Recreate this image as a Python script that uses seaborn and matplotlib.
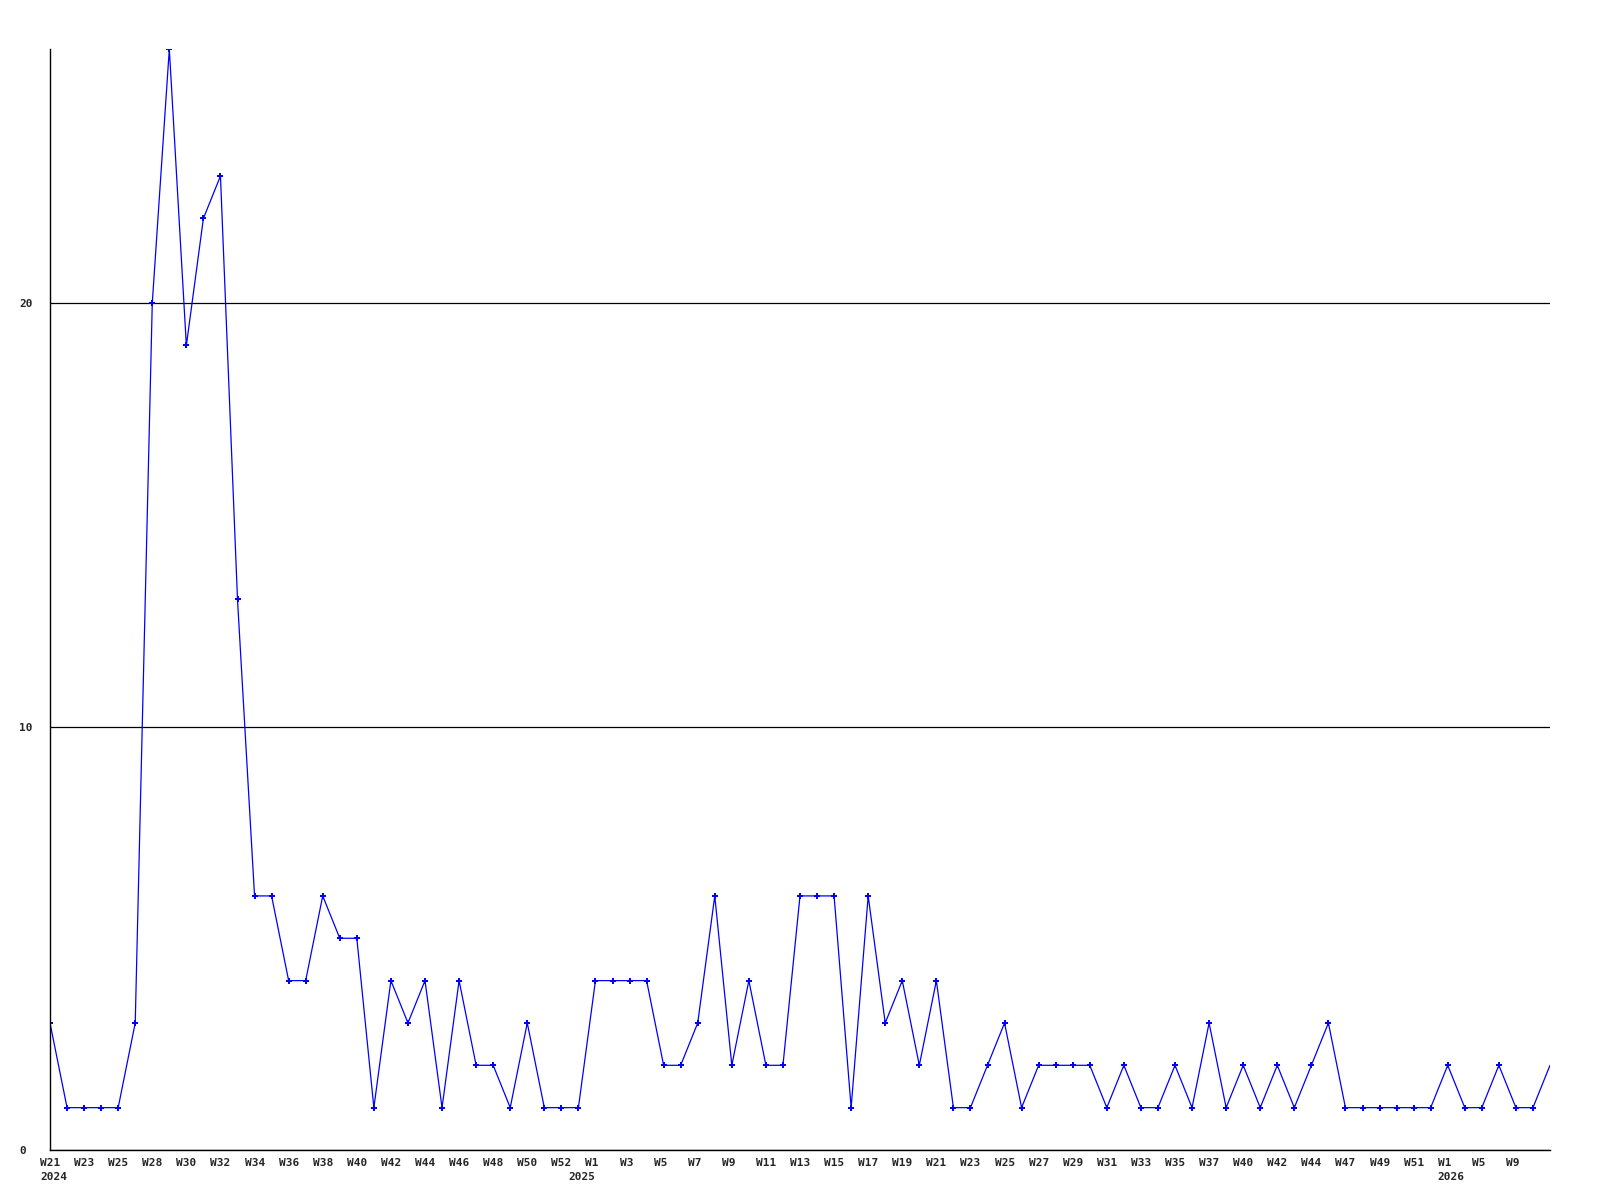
import matplotlib
matplotlib.use('Agg')
import matplotlib.pyplot as plt
import matplotlib.transforms as mtransforms
import seaborn as sns
import pandas as pd

# weekly counts (W21 2024 .. W10 2026)
counts = [3, 1, 1, 1, 1, 3, 20, 26, 19, 22, 23, 13, 6, 6, 4, 4, 6, 5, 5, 1,
          4, 3, 4, 1, 4, 2, 2, 1, 3, 1, 1, 1, 4, 4, 4, 4, 2, 2, 3, 6,
          2, 4, 2, 2, 6, 6, 6, 1, 6, 3, 4, 2, 4, 1, 1, 2, 3, 1, 2, 2,
          2, 2, 1, 2, 1, 1, 2, 1, 3, 1, 2, 1, 2, 1, 2, 3, 1, 1, 1, 1,
          1, 1, 2, 1, 1, 2, 1, 1, 2]

week_labels = ['W21', 'W23', 'W25', 'W28', 'W30', 'W32', 'W34', 'W36', 'W38',
               'W40', 'W42', 'W44', 'W46', 'W48', 'W50', 'W52',
               'W1', 'W3', 'W5', 'W7', 'W9', 'W11', 'W13', 'W15', 'W17',
               'W19', 'W21', 'W23', 'W25', 'W27', 'W29', 'W31', 'W33', 'W35',
               'W37', 'W40', 'W42', 'W44', 'W47', 'W49', 'W51',
               'W1', 'W5', 'W9']
year_labels = ['2024', '2025', '2026']
year_pos = [0, 31, 82]

y_ticks = [0, 10, 20]

df = pd.DataFrame({'week': range(len(counts)), 'count': counts})

sns.set_style('white')
plt.rcParams['font.family'] = ['DejaVu Sans Mono', 'DejaVu Sans']

fig = plt.figure(figsize=(16, 12), dpi=100)
ax = fig.add_axes([0.03125, 0.04167, 0.9375, 0.9175])

sns.lineplot(data=df, x='week', y='count', ax=ax, color='#0000ff',
             linewidth=0.9, marker='P', markersize=4, markeredgewidth=0,
             markevery=list(range(len(counts) - 1)))

ax.set_xlim(0, len(counts) - 1)
ax.set_ylim(0, 26)
ax.set_xlabel('')
ax.set_ylabel('')

for side in ['top', 'right']:
    ax.spines[side].set_visible(False)
for side in ['left', 'bottom']:
    ax.spines[side].set_color('black')
    ax.spines[side].set_linewidth(1)

ax.yaxis.grid(True, color='black', linewidth=0.9)
ax.set_axisbelow(True)

ax.set_yticks(y_ticks)
ax.set_yticklabels([str(v) for v in y_ticks], fontsize=8, fontweight='bold')
ax.tick_params(axis='y', length=0, pad=22)
for lab in ax.get_yticklabels():
    lab.set_ha('left')

ax.set_xticks(range(0, 2 * len(week_labels), 2))
ax.set_xticklabels(week_labels, fontsize=8, fontweight='bold')
ax.tick_params(axis='x', length=0, pad=6)
shift = mtransforms.ScaledTranslation(-0.10, 0, fig.dpi_scale_trans)
for lab in ax.get_xticklabels():
    lab.set_ha('left')
    lab.set_transform(lab.get_transform() + shift)

trans = mtransforms.blended_transform_factory(ax.transData, ax.transAxes)
for yr, pos in zip(year_labels, year_pos):
    ax.text(pos, 0, yr, transform=trans + mtransforms.ScaledTranslation(-0.10, -0.225, fig.dpi_scale_trans),
            fontsize=8, fontweight='bold', ha='left', va='top')

plt.savefig('out.png', dpi=100)
